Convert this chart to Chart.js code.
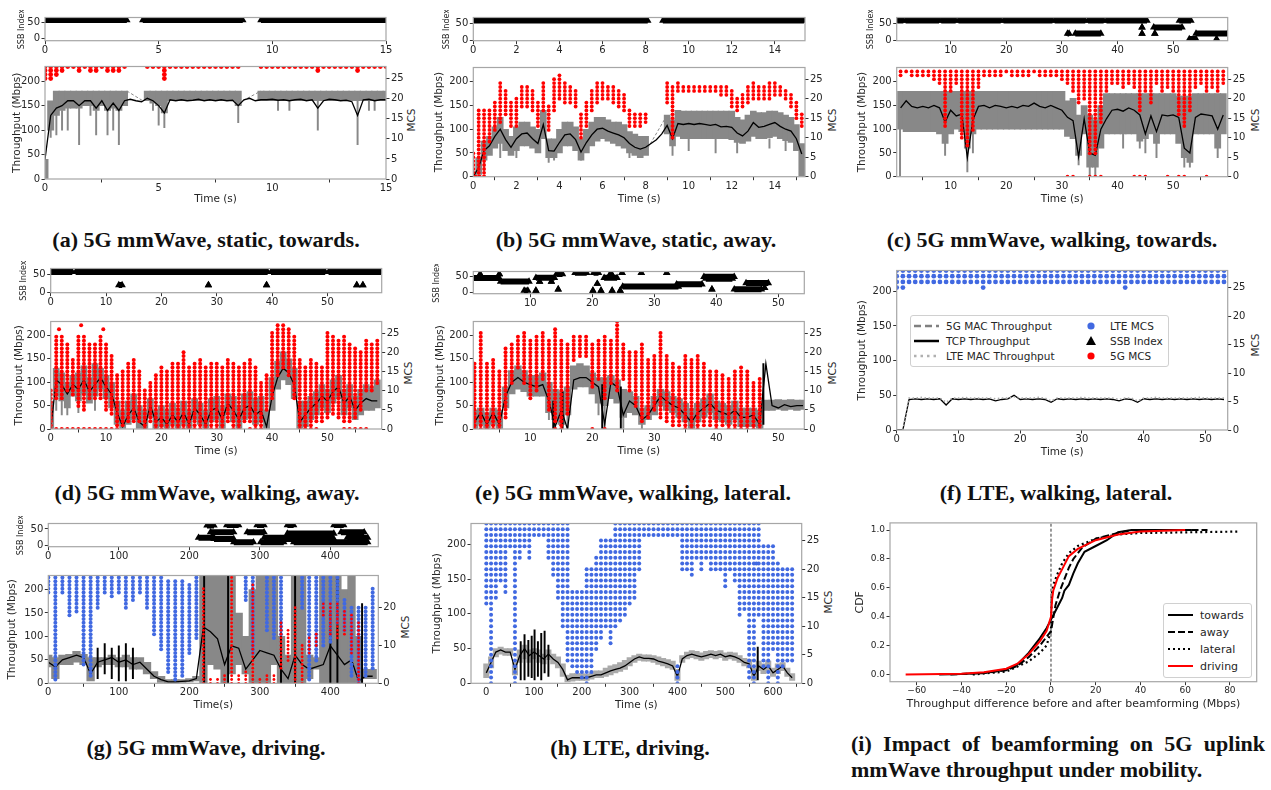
<!DOCTYPE html>
<html>
<head>
<meta charset="utf-8">
<script src="https://cdn.jsdelivr.net/npm/chart.js@4.4.0/dist/chart.umd.min.js"></script>
<style>
  body { margin: 0; background: #fff; width: 1271px; height: 790px; position: relative; overflow: hidden; }
  canvas { position: absolute; }
  .cap { position: absolute; width: 440px; margin-left: -220px; text-align: center; font: bold 22px "Liberation Serif", serif; color: #111; white-space: nowrap; transform: translateY(-50%); }
  .capi { position: absolute; left: 851px; width: 414px; font: bold 22px "Liberation Serif", serif; color: #111; white-space: nowrap; transform: translateY(-50%); }
  .rlab { position: absolute; font: 10.5px "DejaVu Sans", sans-serif; color: #262626; transform: translate(-50%, -50%) rotate(-90deg); white-space: nowrap; }
  .legend { position: absolute; border: 1px solid #d0d0d0; border-radius: 3px; background: rgba(255,255,255,0.85); font-family: "DejaVu Sans", sans-serif; color: #262626; }
  .legend .row { position: absolute; white-space: nowrap; transform: translateY(-50%); }
  .legend svg { position: absolute; overflow: visible; }
</style>
</head>
<body>
<div class="cap" style="left:206px;top:240px">(a) 5G mmWave, static, towards.</div>
<div class="cap" style="left:636px;top:240px">(b) 5G mmWave, static, away.</div>
<div class="cap" style="left:1052px;top:240px">(c) 5G mmWave, walking, towards.</div>
<div class="cap" style="left:207px;top:493px">(d) 5G mmWave, walking, away.</div>
<div class="cap" style="left:633px;top:493px">(e) 5G mmWave, walking, lateral.</div>
<div class="cap" style="left:1056px;top:493px">(f) LTE, walking, lateral.</div>
<div class="cap" style="left:206px;top:748px">(g) 5G mmWave, driving.</div>
<div class="cap" style="left:630px;top:748px">(h) LTE, driving.</div>
<div class="capi" style="top:744px;text-align:justify;text-align-last:justify">(i) Impact of beamforming on 5G uplink</div>
<div class="capi" style="top:770px">mmWave throughput under mobility.</div>

<div class="rlab" style="left:411px;top:120px">MCS</div>
<div class="rlab" style="left:832px;top:120px">MCS</div>
<div class="rlab" style="left:1255px;top:120px">MCS</div>
<div class="rlab" style="left:408px;top:373px">MCS</div>
<div class="rlab" style="left:832px;top:373px">MCS</div>
<div class="rlab" style="left:1255px;top:345px">MCS</div>
<div class="rlab" style="left:405px;top:627px">MCS</div>
<div class="rlab" style="left:828px;top:602px">MCS</div>

<div class="legend" style="left:910px;top:315px;width:257px;height:50px;font-size:10.5px">
  <svg style="left:3px;top:9px" width="26" height="2"><line x1="0" y1="1" x2="25" y2="1" stroke="#808080" stroke-width="2.5" stroke-dasharray="7,4"/></svg>
  <div class="row" style="left:35px;top:10px">5G MAC Throughput</div>
  <svg style="left:3px;top:24px" width="26" height="2"><line x1="0" y1="1" x2="25" y2="1" stroke="#000" stroke-width="2.5"/></svg>
  <div class="row" style="left:35px;top:25px">TCP Throughput</div>
  <svg style="left:3px;top:39px" width="26" height="2"><line x1="0" y1="1" x2="25" y2="1" stroke="#b0b0b0" stroke-width="2.5" stroke-dasharray="2.5,4"/></svg>
  <div class="row" style="left:35px;top:40px">LTE MAC Throughput</div>
  <svg style="left:176px;top:6px" width="8" height="8"><circle cx="4" cy="4" r="3.6" fill="#4169e1"/></svg>
  <div class="row" style="left:199px;top:10px">LTE MCS</div>
  <svg style="left:175px;top:20px" width="10" height="9"><polygon points="5,0 10,9 0,9" fill="#000"/></svg>
  <div class="row" style="left:199px;top:25px">SSB Index</div>
  <svg style="left:176px;top:36px" width="8" height="8"><circle cx="4" cy="4" r="3.6" fill="#ff0000"/></svg>
  <div class="row" style="left:199px;top:40px">5G MCS</div>
</div>

<div class="legend" style="left:1163px;top:603px;width:87px;height:73px;font-size:11px">
  <svg style="left:4px;top:10px" width="26" height="2"><line x1="0" y1="1" x2="25" y2="1" stroke="#000" stroke-width="2"/></svg>
  <div class="row" style="left:36px;top:11px">towards</div>
  <svg style="left:4px;top:27px" width="26" height="2"><line x1="0" y1="1" x2="25" y2="1" stroke="#000" stroke-width="2" stroke-dasharray="7,3"/></svg>
  <div class="row" style="left:36px;top:28px">away</div>
  <svg style="left:4px;top:44px" width="26" height="2"><line x1="0" y1="1" x2="25" y2="1" stroke="#000" stroke-width="2" stroke-dasharray="2,3"/></svg>
  <div class="row" style="left:36px;top:45px">lateral</div>
  <svg style="left:4px;top:61px" width="26" height="2"><line x1="0" y1="1" x2="25" y2="1" stroke="#ff0000" stroke-width="2"/></svg>
  <div class="row" style="left:36px;top:62px">driving</div>
</div>

<script>
const FONT = "'DejaVu Sans', sans-serif";
const INK = "#262626";
const TICKC = "#333333";
const FRAME = "#a6a6a6";
const GRAY = "#888888";
const LTEGRAY = "#aaaaaa";
const RED = "#ff0000";
const BLUE = "#4169e1";

// ---------- tick labels ----------
const thrTicks = [0, 50, 100, 150, 200];
const mcsTicks = [0, 5, 10, 15, 20, 25];
const gMcsTicks = [0, 10, 20];
const ssbTicks = [0, 50];
const aXTicks = [0, 5, 10, 15];
const bXTicks = [0, 2, 4, 6, 8, 10, 12, 14];
const cXTicks = [10, 20, 30, 40, 50];
const dXTicks = [0, 10, 20, 30, 40, 50];
const eXTicks = [10, 20, 30, 40, 50];
const fXTicks = [0, 10, 20, 30, 40, 50];
const gXTicks = [0, 100, 200, 300, 400];
const hXTicks = [0, 100, 200, 300, 400, 500, 600];
const iXTicks = [-60, -40, -20, 0, 20, 40, 60, 80];
const iYTicks = [0, 0.2, 0.4, 0.6, 0.8, 1.0];

// ---------- (a) 5G mmWave, static, towards : bins every 0.25 s from 0 ----------
const aT0 = 0, aDt = 0.25;
const aTcp = [40,130,145,150,160,160,150,160,160,145, 160,140,155,140,160,163,160,158,165,160,
  150,135,162,160,162,160,161,163,160,162, 160,162,160,161,150,162,165,160,162,162,
  163,161,162,160,162,163,160,162,145,160, 163,162,160,161,158,130,162,163,160,162, 162];
const aMacLo = [0,100,130,140,145,145,145,150,150,140, 150,140,145,140,150,null,null,null,160,155,
  150,135,160,160,160,160,160,160,160,160, 160,160,160,160,150,null,null,null,160,160,
  160,160,160,160,160,160,160,160,160,160, 160,160,160,160,160,160,160,160,160,160, 160];
const aMacHi = [40,160,180,180,180,180,180,180,180,180, 180,180,180,180,180,null,null,null,180,180,
  180,180,180,180,180,180,180,180,180,180, 180,180,180,180,180,null,null,null,180,180,
  180,180,180,180,180,180,180,180,180,180, 180,180,180,180,180,180,180,180,180,180, 180];
const aDips = [[0.25,85,120],[0.5,90,130],[0.75,100,140],[1.0,100,145],[1.5,70,145],[2.0,130,150],
  [2.25,90,140],[2.75,90,140],[3.0,100,145],[3.25,70,140],[4.75,140,155],[5.0,110,150],[5.25,105,135],
  [8.5,115,150],[10.25,140,160],[10.75,140,160],[12.0,100,160],[13.75,70,160],[14.25,140,160],[14.5,140,160]];
const aMacGaps = [[3.6,180,4.3,160],[8.7,160,9.5,180]];
const aMcsLo = [25,25,26,27,28,28,27,28,27,27, 28,27,27,27,28,null,null,null,28,28,
  28,25,28,28,28,28,28,28,28,28, 28,28,28,28,28,null,null,null,28,28,
  28,28,28,28,28,28,28,28,27,28, 28,28,28,28,28,27,28,28,28,28, 28];
const aMcsHi = 28;
const aSsb = [[0,3.6,58],[4.3,8.7,58],[9.5,15,58]];

// ---------- (b) 5G mmWave, static, away : bins every 0.25 s ----------
const bT0 = 0, bDt = 0.25;
const bTcp = [0,20,55,65,85,100,78,62,80,90, 92,80,70,110,55,54,72,88,90,78,
  52,72,88,100,102,96,92,88,82,70, 62,58,62,70,78,90,108,80,112,110,
  112,110,112,110,108,110,105,106,104,92, 86,96,114,104,106,110,114,106,100,96, 80,48];
const bMacHi = [10,40,75,85,105,125,100,85,105,115, 115,105,100,140,80,80,100,115,115,105,
  80,100,115,125,125,120,115,115,110,95, 90,85,85,null,null,null,130,120,140,138,
  138,138,138,138,138,138,138,138,138,125, 120,130,138,135,135,138,138,135,130,125, 110,70];
const bMacLo = [0,5,35,45,60,70,55,45,55,65, 65,60,50,80,40,40,50,65,65,55,
  35,50,65,75,80,75,70,65,60,50, 45,40,45,null,null,null,90,65,85,80,
  80,80,80,80,80,80,80,80,78,72, 70,75,85,80,80,82,85,80,76,72, 55,0];
const bDips = [[0.5,10,60],[1.25,40,80],[2.0,40,60],[3.5,30,50],[3.75,35,50],[5.0,35,60],[7.25,40,60],
  [9.25,45,80],[10.0,55,90],[11.25,50,80],[12.25,50,80],[13.75,60,80],[14.5,55,80],[15.3,0,50]];
const bMacGaps = [[8.1,60,9.0,130]];
const bMcsLo = [0,0,0,9,12,14,16,13,13,18, 18,17,13,17,12,17,20,19,19,18,
  10,13,17,19,20,20,19,18,17,13, 13,13,14,null,null,null,19,10,22,22,
  22,22,22,22,22,22,21,21,18,17, 18,19,20,20,20,20,21,21,20,18, 15,13];
const bMcsHi = [6,17,17,17,19,24,22,19,20,23, 23,22,19,24,18,25,26,24,23,22,
  16,19,22,24,24,23,23,22,21,17, 16,16,16,null,null,null,24,23,24,23,
  23,23,23,23,23,23,23,23,22,20, 21,23,24,23,23,24,24,23,22,21, 19,16];
const bMcsExtra = [[0.1,0],[0.3,0],[0.5,0]];
const bSsb = [[0,8.1,58],[8.8,15.35,58],[0.3,0.5,62]];

// ---------- (c) 5G mmWave, walking, towards : bins every 1 s from 1 ----------
const cT0 = 1, cDt = 1;
const cTcp = [145,160,148,145,148,145,150,145,115,140, 128,132,40,120,148,150,145,150,148,145,
  148,145,150,148,155,148,145,150,145,140, 125,118,42,122,50,45,100,122,140,142,
  138,145,140,130,90,128,95,130,128,130, 125,60,50,125,132,130,128,100,130];
const cMacHi = [180,180,180,180,180,180,180,180,180,180, 180,180,180,180,180,180,180,180,180,180,
  180,180,180,180,180,180,180,180,180,180, 160,165,130,150,130,120,150,175,175,175,
  175,175,175,175,175,175,175,175,175,175, 170,170,170,175,175,175,175,175,175];
const cMacLo = [100,95,95,95,95,95,95,90,70,90, 100,95,60,90,100,100,100,100,100,100,
  100,100,100,100,100,100,100,100,100,100, 85,80,45,90,20,20,60,90,90,90,
  90,90,90,75,80,90,70,90,90,90, 70,40,30,90,90,90,90,60,90];
const cDips = [[0.9,0,100],[9,45,90],[13,10,60],[14,50,90],[33,25,60],[35,0,40],[36,0,40],[41,60,90],
  [44,60,90],[45,50,90],[47,40,80],[52,20,60],[53,20,60],[58,40,80]];
const cMcsLo = [26,27,26,26,26,26,25,24,13,22, 24,10,8,12,23,26,26,26,26,27,
  26,26,26,26,27,26,26,26,26,25, 24,22,19,20,6,6,14,22,24,24,
  23,24,23,17,22,19,24,22,23,22, 16,13,17,23,24,22,23,22,24];
const cMcsHi = 27;
const cMcsExtra = [[31,0],[32,0],[35,0],[36,0],[37,0],[43,0],[44,0],[45,0],[49,0],[51,0],[52,0],[56,0]];
const cSsb = [[0.4,1.5,58],[1.9,7.9,58],[8.3,10.9,58],[11.4,19.0,58],[19.5,28.3,58],[28.7,34.2,58],
  [34.7,37.5,58],[38.0,45.3,58],[51.1,53.2,58],[31.0,31.3,20],[32.4,37.0,20],[44.4,44.4,38],
  [44.4,44.4,20],[46.5,51.6,38],[46.7,46.7,20],[52.9,54.1,4],[57.8,57.8,4],[54.1,59.8,20]];

// ---------- (d) 5G mmWave, walking, away : bins every 1 s from 0 ----------
const dT0 = 0, dDt = 1;
const dTcp = [0,105,95,75,95,85,105,80,95,110, 90,75,35,5,30,45,15,5,50,15,
  25,10,30,15,35,10,45,30,10,40, 45,20,55,40,20,45,50,30,40,5,
  70,110,130,120,95,15,30,45,55,70, 60,80,90,55,70,40,55,65,60,60];
const dMacHi = [60,130,120,100,115,120,135,110,140,130, 115,100,60,40,60,75,50,40,65,40,
  50,40,55,45,60,40,65,55,40,65, 70,50,75,70,50,75,80,65,70,40,
  110,145,165,150,130,60,60,70,80,95, 85,105,115,85,95,70,85,95,90,105];
const dMacLo = [0,70,60,45,70,60,75,55,70,85, 65,45,10,0,10,20,0,0,25,0,
  5,0,10,0,10,0,20,10,0,15, 20,0,30,15,0,20,25,10,15,0,
  40,85,105,95,65,0,5,20,30,45, 35,55,65,30,45,20,30,40,40,45];
const dDips = [[1,40,70],[2,30,60],[3,30,45],[5,35,60],[8,40,70]];
const dMcsLo = [0,8,8,10,9,6,5,8,8,8, 5,4,0,1,2,2,2,0,2,0,
  1,0,1,0,1,0,1,0,0,1, 1,0,2,1,0,2,2,1,0,5,
  8,14,16,14,8,0,0,1,2,2, 3,4,3,2,2,3,5,10,10,12];
const dMcsHi = [10,24,24,22,18,24,24,22,22,24, 22,19,14,15,17,18,15,10,12,14,
  16,15,17,17,20,16,17,18,16,17, 17,16,18,17,16,17,18,16,12,14,
  25,27,27,26,24,18,16,18,17,16, 25,24,23,24,22,21,20,23,22,23];
const dMcsExtra = [[1,0],[2,0],[3,0],[4,0],[5,0],[6,0],[7,0],[8,0],[9,0],[10,0],[11,0],[20,0],[22,0],
  [24,0],[26,0],[29,0],[30,0],[33,0],[36,0],[37,0],[46,0],[47,0],[48,0],[53,0],[54,0],[55,0],[56,0],[57,0],
  [1.5,26],[5.5,27],[9.5,26]];
const dSsb = [[0,3.9,58],[4.5,39.2,58],[39.8,49.6,58],[50.2,59.7,58],[16.7,21.6,62],[12.3,12.9,20],
  [28.5,28.5,20],[39.0,39.0,20],[55.3,55.3,20],[56.4,56.4,20]];

// ---------- (e) 5G mmWave, walking, lateral : bins every 1 s from 1 ----------
const eT0 = 1, eDt = 1;
const eTcp = [15,35,10,35,10,70,100,110,100,95, 90,95,60,5,40,0,105,110,110,100,
  90,10,100,90,30,60,50,20,30,50, 70,60,50,45,30,15,35,45,55,40,
  35,30,40,25,25,30,10,140,50,45, 52,48,50,50];
const eMacHi = [40,45,35,45,40,90,125,135,125,115, 115,120,100,85,80,90,135,140,135,120,
  110,110,115,105,85,80,70,45,50,70, 85,80,70,65,55,45,55,65,75,60,
  55,50,60,45,45,45,40,62,62,63, 62,63,62,62];
const eMacLo = [0,10,0,10,0,45,75,85,80,70, 70,70,35,20,10,30,85,90,90,75,
  55,50,65,55,25,35,30,10,20,30, 50,40,35,25,15,0,15,25,35,20,
  15,10,20,5,5,5,0,40,40,42, 40,42,40,42];
const eDips = [[13,20,50],[14,0,40],[16,0,60],[21,30,60],[22,0,60],[25,0,40],[28,0,20]];
const eTcpSpikes = [[13.7,0,60],[15.2,0,80],[21.6,0,95],[24.6,0,90],[47.6,10,140]];
const eMcsLo = [0,0,0,0,0,3,12,16,12,8, 10,13,5,2,1,4,18,19,19,11,
  13,8,12,10,13,10,6,2,3,5, 3,2,1,1,0,0,0,1,1,0,
  1,0,0,0,0,0,0,null,null,null, null,null,null,null];
const eMcsHi = [17,25,17,18,15,21,22,24,25,23, 24,25,23,26,23,22,24,24,24,22,
  23,24,23,28,22,20,20,22,18,19, 25,19,17,16,19,18,19,17,15,15,
  14,13,15,16,15,12,13,null,null,null, null,null,null,null];
const eMcsExtra = [[14,0],[15,0],[20,0],[22,0]];
const eSsb = [[0.8,5.0,46],[1.9,1.9,59],[5.0,5.0,59],[5.2,9.8,35],[9.0,9.6,6],[10.9,10.9,6],[10.9,13.9,47],
  [11.5,11.5,35],[13.4,13.4,35],[14.2,15.2,59],[14.5,14.5,10],[17.2,19.1,63],[20.2,21.0,63],[23.0,23.0,63],
  [24.8,24.8,63],[27.9,27.9,63],[32.0,32.0,63],[21.9,24.0,47],[20.8,20.8,28],[20.1,20.1,6],[21.4,21.4,6],
  [23.2,23.2,6],[24.5,24.5,6],[24.9,33.9,19],[33.6,37.7,26],[38.0,42.9,50],[38.3,42.6,44],[39.3,39.3,10],
  [42.9,47.3,10],[44.8,48.4,30],[47.8,47.8,15]];

// ---------- (f) LTE, walking, lateral : bins every 1 s from 0 ----------
const fT0 = 0, fDt = 1;
const fTcp = [0,0,44,45,44,45,44,45,36,45, 44,45,44,45,44,45,42,44,45,50,
  44,45,44,45,44,40,45,44,45,44, 45,44,45,44,45,44,42,45,44,40,
  45,44,45,44,45,44,45,44,45,44, 45,44,45,44];
const fLteMac = [null,0,46,46,47,46,46,46,40,46, 46,47,46,46,46,46,45,46,46,48,
  46,46,46,47,46,42,46,46,46,46, 47,46,46,46,46,46,44,46,46,42,
  46,46,47,46,46,46,46,46,46,47, 46,46,46,46];
const fMcsLo = [25,25,26,26,26,26,26,26,26,26, 26,26,26,26,25,26,26,26,26,26,
  26,26,26,26,26,26,26,26,26,26, 26,26,26,26,26,26,26,25,26,26,
  26,26,26,26,26,26,26,26,26,26, 26,26,26,26];
const fMcsHi = 28;

// ---------- (g) 5G mmWave, driving : bins every 10 s from 0 ----------
const gT0 = 0, gDt = 10;
const gTcp = [45,35,50,55,60,55,20,45,50,55, 45,50,40,45,30,15,8,3,3,4,
  5,10,120,110,95,40,80,75,30,50, 70,65,60,30,10,60,40,30,35,40,
  80,60,40,50,5,15,15];
const gMacLo = [35,10,40,40,45,40,5,35,40,40, 35,35,30,30,20,10,2,0,0,2,
  3,5,0,40,30,0,20,40,20,0, 0,0,40,0,0,0,0,10,30,0,
  0,0,0,0,0,10,10];
const gMacHi = [60,55,60,62,68,62,55,55,55,60, 55,60,55,55,45,25,15,8,8,8,
  10,15,230,230,230,230,230,150,100,200, 230,230,230,100,60,230,230,60,55,230,
  230,230,200,230,100,30,30];
const gTcpSpikes = [[70,10,75],[80,20,85],[90,10,75],[100,5,80],[110,5,85],[120,10,75],[221,0,230],
  [255,0,230],[330,0,140],[350,0,230],[400,0,150],[410,0,230],[445,0,170]];
const gLteLo = [24,1,24,18,19,5,2,20,24,23, 24,20,22,24,20,13,9,3,1,2,
  8,12,null,null,null,null,null,null,22,8, null,14,12,13,null,null,20,1,6,10,
  11,16,14,2,0,2,4];
const gLteHi = [28,28,28,28,28,28,28,28,28,28, 28,28,28,28,28,28,28,27,27,27,
  26,28,null,null,null,null,null,null,28,28, null,28,28,28,null,null,28,28,28,28,
  28,28,22,20,20,20,25];
const gNrLo = [null,null,null,null,null,null,null,null,null,null, null,null,null,null,null,null,null,null,null,null,
  null,null,0,0,0,0,0,0,0,0, 0,0,0,4,6,0,0,8,10,18,
  13,12,13,8,0,null,null];
const gNrHi = [null,null,null,null,null,null,null,null,null,null, null,null,null,null,null,null,null,null,null,null,
  null,null,25,1,1,2,28,2,3,26, 1,2,2,16,14,20,10,12,13,21,
  21,21,19,18,16,null,null];
const gSsb = [[213,235,23],[225,235,61],[230,263,40],[235,263,19],[253,270,62],[263,291,9],[282,306,40],
  [296,306,62],[301,334,9],[306,339,23],[339,348,62],[339,405,36],[329,405,19],[348,453,9],[405,419,62],
  [415,448,40],[424,453,23]];

// ---------- (h) LTE, driving : bins every 10 s from 0 ----------
const hT0 = 0, hDt = 10;
const hTcp = [15,30,45,48,45,45,20,40,50,40, 45,40,35,42,35,30,20,5,8,8,
  8,8,10,12,12,15,18,20,22,25, 30,35,38,36,36,35,32,30,28,25,
  10,35,40,42,40,38,40,42,40,42, 38,40,38,35,30,28,10,25,20,25,
  15,20,25,15,8];
const hMacLo = [8,22,38,42,40,40,12,30,35,30, 35,30,28,34,28,22,10,2,3,4,
  4,4,6,8,8,10,12,15,17,20, 25,30,33,32,32,30,27,25,22,20,
  4,30,35,37,35,33,35,37,35,37, 33,35,33,30,25,22,4,18,14,18,
  10,14,18,10,4];
const hMacHi = [28,38,50,52,50,50,30,48,55,48, 50,48,42,48,42,38,28,12,14,14,
  14,13,15,18,18,22,25,27,30,33, 37,40,42,41,41,40,38,36,34,32,
  20,40,45,47,46,44,46,47,46,47, 44,45,44,40,36,34,22,32,28,32,
  22,28,30,22,14];
const hTcpSpikes = [[72,5,60],[80,5,70],[88,10,62],[95,8,68],[101,5,77],[108,10,60],[115,5,72],
  [122,15,75],[130,10,55],[568,5,52]];
const hMcsLo = [14,0,15,18,16,24,0,22,24,22, 26,26,26,22,19,15,10,4,3,2,
  1,0,2,6,8,10,7,10,11,12, 14,15,20,26,26,26,26,26,26,26,
  26,20,20,19,22,20,22,20,20,20, 17,20,18,12,13,1,0,12,3,0,
  6,0,3,4,4];
const hMcsHi = [28,28,28,28,28,28,28,28,28,28, 28,28,28,28,28,28,28,28,16,16,
  16,20,20,22,25,25,25,28,28,28, 28,28,28,28,28,28,28,28,28,28,
  28,28,28,28,28,28,28,28,28,28, 28,28,28,28,28,28,28,28,24,24,
  24,21,20,20,20];
const hMcsExtra = [[400,0],[400,1],[400,2],[400,3],[565,21]];

// ---------- (i) CDF of throughput difference before/after beamforming ----------
const iTowardsX = [-50,-40,-30,-20,-15,-10,-5,-2,0,2,4,5,6,8,10,12,15,20,25,30,36,63];
const iTowardsY = [0,0.003,0.01,0.035,0.07,0.15,0.25,0.32,0.38,0.44,0.5,0.53,0.58,0.62,0.7,0.77,0.85,0.89,0.93,0.985,1.0,1.0];
const iAwayX = [-45,-30,-20,-15,-10,-5,-2,0,2,4,6,8,10,14,20,30,36,70];
const iAwayY = [0,0.01,0.03,0.06,0.12,0.2,0.26,0.3,0.48,0.58,0.66,0.74,0.8,0.88,0.94,0.98,1.0,1.0];
const iLateralX = [-35,-20,-10,-5,-2,0,0.3,1,3,5,8,12,20,30,40,84];
const iLateralY = [0,0.02,0.09,0.15,0.2,0.3,0.55,0.62,0.7,0.77,0.84,0.89,0.94,0.97,0.98,0.99];
const iDrivingX = [-65,-40,-30,-20,-15,-10,-5,-2,0,0.5,1,3,5,8,12,20,30,40,60];
const iDrivingY = [0,0.005,0.015,0.04,0.075,0.14,0.23,0.3,0.4,0.52,0.58,0.67,0.73,0.82,0.87,0.93,0.97,0.99,1.0];

// ---------- helpers ----------
const bins = (t0, dt, n) => Array.from({ length: n }, (_, i) => +(t0 + i * dt).toFixed(3));
const fmt = v => (v < 0 ? "\u2212" + Math.abs(v) : String(v));

const framePlugin = {
  id: "frame",
  afterDatasetsDraw(chart) {
    const { ctx, chartArea: a } = chart;
    ctx.save();
    ctx.strokeStyle = FRAME;
    ctx.lineWidth = 1.2;
    ctx.strokeRect(a.left, a.top, a.right - a.left, a.bottom - a.top);
    ctx.restore();
  }
};

function place(area, pad) {
  const c = document.createElement("canvas");
  const left = Math.round(area.l - pad.l), top = Math.round(area.t - pad.t);
  const right = Math.round(area.r + pad.r), bottom = Math.round(area.b + pad.b);
  c.width = right - left;
  c.height = bottom - top;
  c.style.left = left + "px";
  c.style.top = top + "px";
  document.body.appendChild(c);
  return { c, left, top, right, bottom };
}

function axis(min, max, ticks, fs, title, ts, labelFmt) {
  return {
    type: "linear", min, max, offset: false,
    afterBuildTicks: s => { s.ticks = ticks.map(v => ({ value: v })); },
    grid: { drawOnChartArea: false, drawTicks: true, tickLength: 3.5, color: TICKC },
    border: { display: false },
    ticks: { autoSkip: false, maxRotation: 0, padding: 1.5, color: INK,
      font: { family: FONT, size: fs }, callback: labelFmt || fmt },
    title: title ? { display: true, text: title, color: INK, font: { family: FONT, size: ts }, padding: 0 } : { display: false }
  };
}

function xAxis(min, max, ticks, title, fs, ts, h) {
  const ax = axis(min, max, ticks, fs, title, ts);
  ax.ticks.padding = 0;
  ax.afterFit = s => { s.height = h; };
  return ax;
}

function yAxis(pos, min, max, ticks, title, fs, ts, w, labelFmt) {
  const ax = axis(min, max, ticks, fs, title, ts, labelFmt);
  ax.position = pos;
  ax.afterFit = s => { s.width = w; };
  return ax;
}

function mcsPoints(times, lo, hi, extra) {
  const pts = [];
  times.forEach((t, i) => {
    const a = Array.isArray(lo) ? lo[i] : lo;
    const b = Array.isArray(hi) ? hi[i] : hi;
    if (a == null || b == null) return;
    for (let m = a; m <= b; m++) pts.push({ x: t, y: m });
  });
  (extra || []).forEach(([t, m]) => pts.push({ x: t, y: m }));
  return pts;
}

function baseOptions(g, scales, padRight) {
  return {
    responsive: false, animation: false, events: [],
    layout: { padding: { top: g.padTop, right: padRight || 0, left: 0, bottom: 0 } },
    plugins: { legend: { display: false }, tooltip: { enabled: false } },
    scales
  };
}

function ssbPanel(p) {
  const g = place(p.area, p.pad);
  g.padTop = p.area.t - g.top;
  const pts = [];
  p.segs.forEach(([t0, t1, y]) => pts.push({ x: t0, y }, { x: t1, y }, { x: t1, y: null }));
  new Chart(g.c, {
    type: "line",
    data: { datasets: [{ data: pts, borderColor: "#000", borderWidth: 6, spanGaps: false, tension: 0,
      pointStyle: "triangle", pointRadius: 4.3, pointBackgroundColor: "#000", pointBorderWidth: 0, clip: 0 }] },
    options: baseOptions(g, {
      x: xAxis(p.xMin, p.xMax, p.xTicks, null, 10, 10.5, g.bottom - p.area.b),
      y: yAxis("left", p.yMin, p.yMax, ssbTicks, "SSB Index", 10, 8, p.area.l - g.left)
    }, g.right - p.area.r),
    plugins: [framePlugin]
  });
}

function timePanel(p) {
  const g = place(p.area, p.pad);
  g.padTop = p.area.t - g.top;
  const times = bins(p.t0, p.dt, p.tcp.length);
  const pxPerUnit = (p.area.r - p.area.l) / (p.xMax - p.xMin);
  const bw = p.dt * pxPerUnit + 0.6;
  const ds = [];
  (p.mcs || []).forEach(m => ds.push({
    type: "scatter", yAxisID: "y2", data: mcsPoints(times, m.lo, m.hi, m.extra),
    pointRadius: m.r, pointBackgroundColor: m.color, pointBorderWidth: 0, clip: 0, order: 0
  }));
  if (p.lteMac) ds.push({
    type: "line", data: times.map((t, i) => ({ x: t, y: p.lteMac[i] })), borderColor: LTEGRAY,
    borderWidth: 1.6, borderDash: [1.5, 2.5], pointRadius: 0, tension: 0, spanGaps: false, order: 1
  });
  ds.push({
    type: "line", data: times.map((t, i) => ({ x: t, y: p.tcp[i] })), borderColor: "#000",
    borderWidth: 1.3, pointRadius: 0, tension: 0, spanGaps: false, order: 2
  });
  if (p.tcpSpikes) ds.push({
    type: "bar", data: p.tcpSpikes.map(([t, lo, hi]) => ({ x: t, y: [lo, hi] })),
    backgroundColor: "#000", barThickness: 1.3, grouped: false, order: 2
  });
  if (p.macGaps) ds.push({
    type: "line",
    data: p.macGaps.flatMap(([x0, y0, x1, y1]) => [{ x: x0, y: y0 }, { x: x1, y: y1 }, { x: x1, y: null }]),
    borderColor: GRAY, borderWidth: 1, borderDash: [3, 2], pointRadius: 0, spanGaps: false, order: 3
  });
  if (p.dips) ds.push({
    type: "bar", data: p.dips.map(([t, lo, hi]) => ({ x: t, y: [lo, hi] })),
    backgroundColor: p.macColor || GRAY, barThickness: 1.3, grouped: false, order: 4
  });
  if (p.macLo) ds.push({
    type: "bar",
    data: times.map((t, i) => ({ x: t, y: (p.macLo[i] == null || p.macHi[i] == null) ? null : [p.macLo[i], p.macHi[i]] })),
    backgroundColor: p.macColor || GRAY, barThickness: bw, grouped: false, order: 5
  });
  new Chart(g.c, {
    type: "line",
    data: { datasets: ds },
    options: baseOptions(g, {
      x: xAxis(p.xMin, p.xMax, p.xTicks, p.xTitle || "Time (s)", 10, 10.5, g.bottom - p.area.b),
      y: yAxis("left", 0, 230, thrTicks, "Throughput (Mbps)", 10, 10.5, p.area.l - g.left),
      y2: yAxis("right", 0, p.mcsMax || 28, p.mcsTicks || mcsTicks, null, 10, 10.5, g.right - p.area.r)
    }),
    plugins: [framePlugin]
  });
}

// ---------- row 1 ----------
ssbPanel({ area: { l: 45, r: 386, t: 12.7, b: 40.7 }, pad: { l: 28, r: 30, t: 3, b: 14 },
  xMin: 0, xMax: 15, xTicks: aXTicks, yMin: -8, yMax: 66, segs: aSsb });
timePanel({ area: { l: 45, r: 386, t: 61.7, b: 179 }, pad: { l: 34, r: 30, t: 3, b: 27 },
  xMin: 0, xMax: 15, xTicks: aXTicks, t0: aT0, dt: aDt, tcp: aTcp, macLo: aMacLo, macHi: aMacHi, dips: aDips,
  macGaps: aMacGaps, mcs: [{ lo: aMcsLo, hi: aMcsHi, color: RED, r: 2.4 }] });

ssbPanel({ area: { l: 473.3, r: 805, t: 12.7, b: 40.7 }, pad: { l: 31, r: 30, t: 3, b: 14 },
  xMin: 0, xMax: 15.4, xTicks: bXTicks, yMin: -1, yMax: 67, segs: bSsb });
timePanel({ area: { l: 473.3, r: 805, t: 63.3, b: 176.7 }, pad: { l: 40, r: 30, t: 3, b: 29 },
  xMin: 0, xMax: 15.4, xTicks: bXTicks, t0: bT0, dt: bDt, tcp: bTcp, macLo: bMacLo, macHi: bMacHi, dips: bDips,
  macGaps: bMacGaps, mcs: [{ lo: bMcsLo, hi: bMcsHi, extra: bMcsExtra, color: RED, r: 1.9 }] });

ssbPanel({ area: { l: 896.7, r: 1227.7, t: 12.7, b: 40.7 }, pad: { l: 30.5, r: 6, t: 3, b: 14 },
  xMin: 0.3, xMax: 59.8, xTicks: cXTicks, yMin: -1, yMax: 67, segs: cSsb });
timePanel({ area: { l: 896.7, r: 1227.7, t: 63.3, b: 176.7 }, pad: { l: 40.5, r: 22, t: 3, b: 29 },
  xMin: 0.3, xMax: 59.8, xTicks: cXTicks, t0: cT0, dt: cDt, tcp: cTcp, macLo: cMacLo, macHi: cMacHi, dips: cDips,
  mcs: [{ lo: cMcsLo, hi: cMcsHi, extra: cMcsExtra, color: RED, r: 1.9 }] });

// ---------- row 2 ----------
ssbPanel({ area: { l: 50.7, r: 381.7, t: 264.3, b: 292.7 }, pad: { l: 32, r: 30, t: 3, b: 14 },
  xMin: 0, xMax: 59.8, xTicks: dXTicks, yMin: -2, yMax: 68, segs: dSsb });
timePanel({ area: { l: 50.7, r: 381.7, t: 317, b: 429 }, pad: { l: 38, r: 30, t: 3, b: 29 },
  xMin: 0, xMax: 59.8, xTicks: dXTicks, t0: dT0, dt: dDt, tcp: dTcp, macLo: dMacLo, macHi: dMacHi, dips: dDips,
  mcs: [{ lo: dMcsLo, hi: dMcsHi, extra: dMcsExtra, color: RED, r: 2.0 }] });

ssbPanel({ area: { l: 473.3, r: 804.3, t: 266.7, b: 293.7 }, pad: { l: 41, r: 30, t: 3, b: 14 },
  xMin: 0.8, xMax: 54.2, xTicks: eXTicks, yMin: -4, yMax: 67, segs: eSsb });
timePanel({ area: { l: 473.3, r: 804.3, t: 316.7, b: 429 }, pad: { l: 39.6, r: 30, t: 3, b: 29 },
  xMin: 0.8, xMax: 54.2, xTicks: eXTicks, t0: eT0, dt: eDt, tcp: eTcp, macLo: eMacLo, macHi: eMacHi, dips: eDips,
  tcpSpikes: eTcpSpikes, mcs: [{ lo: eMcsLo, hi: eMcsHi, extra: eMcsExtra, color: RED, r: 2.0 }] });

timePanel({ area: { l: 896.7, r: 1227.7, t: 266, b: 430 }, pad: { l: 40.5, r: 22, t: 3, b: 29 },
  xMin: 0, xMax: 53.6, xTicks: fXTicks, t0: fT0, dt: fDt, tcp: fTcp, lteMac: fLteMac,
  mcs: [{ lo: fMcsLo, hi: fMcsHi, color: BLUE, r: 2.4 }] });

// ---------- row 3 ----------
ssbPanel({ area: { l: 48.3, r: 378.3, t: 519, b: 546.7 }, pad: { l: 32, r: 30, t: 3, b: 14 },
  xMin: 0, xMax: 468, xTicks: gXTicks, yMin: -5, yMax: 67, segs: gSsb });
timePanel({ area: { l: 48.3, r: 378.3, t: 570.7, b: 683.3 }, pad: { l: 42, r: 30, t: 3, b: 29 },
  xMin: 0, xMax: 468, xTicks: gXTicks, xTitle: "Time(s)", mcsMax: 28.5, mcsTicks: gMcsTicks,
  t0: gT0, dt: gDt, tcp: gTcp, macLo: gMacLo, macHi: gMacHi, tcpSpikes: gTcpSpikes,
  mcs: [{ lo: gNrLo, hi: gNrHi, color: RED, r: 1.4 }, { lo: gLteLo, hi: gLteHi, color: BLUE, r: 2.0 }] });

timePanel({ area: { l: 471, r: 801.7, t: 519, b: 683.3 }, pad: { l: 40.3, r: 30, t: 3, b: 29 },
  xMin: -32, xMax: 660, xTicks: hXTicks, t0: hT0, dt: hDt, tcp: hTcp, macLo: hMacLo, macHi: hMacHi,
  macColor: LTEGRAY, tcpSpikes: hTcpSpikes,
  mcs: [{ lo: hMcsLo, hi: hMcsHi, extra: hMcsExtra, color: BLUE, r: 2.0 }] });

// ---------- (i) CDF ----------
(function () {
  const area = { l: 890, r: 1256.7, t: 519, b: 681.7 };
  const g = place(area, { l: 36.3, r: 8, t: 3, b: 29 });
  g.padTop = area.t - g.top;
  const pts = (xs, ys) => xs.map((x, i) => ({ x, y: ys[i] }));
  const line = (data, color, dash, w, order) => ({ type: "line", data, borderColor: color, borderWidth: w,
    borderDash: dash, pointRadius: 0, tension: 0, order });
  new Chart(g.c, {
    type: "line",
    data: { datasets: [
      line(pts(iDrivingX, iDrivingY), RED, [], 2, 0),
      line(pts(iTowardsX, iTowardsY), "#000", [], 2, 1),
      line(pts(iAwayX, iAwayY), "#000", [7, 3], 2, 2),
      line(pts(iLateralX, iLateralY), "#000", [2, 3], 2.2, 3),
      line([{ x: 0, y: -0.05 }, { x: 0, y: 1.05 }], "#000", [3, 2], 0.8, 4)
    ] },
    options: baseOptions(g, {
      x: xAxis(-72, 92, iXTicks, "Throughput difference before and after beamforming (Mbps)", 9, 11, g.bottom - area.b),
      y: yAxis("left", -0.05, 1.05, iYTicks, "CDF", 9, 11, area.l - g.left, v => v.toFixed(1))
    }, g.right - area.r),
    plugins: [framePlugin]
  });
})();
</script>
</body>
</html>
